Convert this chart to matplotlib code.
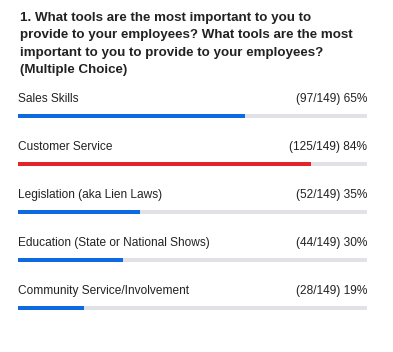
import matplotlib.pyplot as plt
import numpy as np

title = ("1. What tools are the most important to you to\n"
         "provide to your employees? What tools are the most\n"
         "important to you to provide to your employees?\n"
         "(Multiple Choice)")
choices = ["Sales Skills", "Customer Service", "Legislation (aka Lien Laws)",
           "Education (State or National Shows)", "Community Service/Involvement"]
counts = [97, 125, 52, 44, 28]
total = 149
pct = [65, 84, 35, 30, 19]
colors = ["#0e6ae0", "#e3242b", "#0e6ae0", "#0e6ae0", "#0e6ae0"]

plt.rcParams['font.family'] = ['Liberation Sans', 'DejaVu Sans']
W, H = 393, 352
fig = plt.figure(figsize=(W / 100, H / 100), dpi=100)
fig.patch.set_facecolor("white")

# axes over the bar area: x 18..367 px, rows every 48 px starting at 116 px
ax = fig.add_axes([18 / W, 0, 349 / W, 1])
step = 48
ax.set_xlim(0, 100)
ax.set_ylim((H - 116) / step, -116 / step)
ax.axis("off")

y = np.arange(len(choices))
ax.barh(y, [100] * len(y), height=4.5 / step, color="#e1e1e6")
ax.barh(y, pct, height=4.5 / step, color=colors)

for i, name in enumerate(choices):
    ax.text(0, i - 17 / step, name, fontsize=8.6, color="#222222",
            va="center", ha="left")
    ax.text(100, i - 17 / step, f"({counts[i]}/{total}) {pct[i]}%",
            fontsize=8.6, color="#222222", va="center", ha="right")

fig.text(20 / W, 1 - 11.5 / H, title, fontsize=9.6, fontweight="bold",
         color="#222222", va="top", ha="left", linespacing=1.62)

fig.savefig("out.png", dpi=100)
